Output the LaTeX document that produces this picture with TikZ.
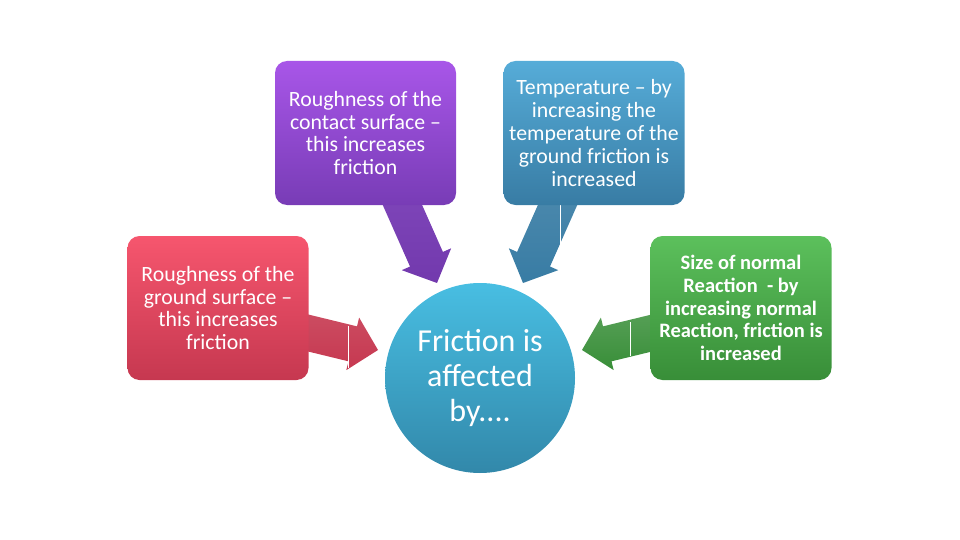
\documentclass[tikz,border=0pt]{standalone}
\usepackage{fontspec}
\setmainfont{Carlito}
\usetikzlibrary{calc}
\definecolor{purT}{RGB}{168,86,232}
\definecolor{purB}{RGB}{120,60,182}
\definecolor{bluT}{RGB}{86,172,216}
\definecolor{bluB}{RGB}{56,124,164}
\definecolor{redT}{RGB}{246,86,110}
\definecolor{redB}{RGB}{198,56,80}
\definecolor{grnT}{RGB}{92,192,92}
\definecolor{grnB}{RGB}{56,142,56}
\definecolor{cirT}{RGB}{72,190,226}
\definecolor{cirB}{RGB}{50,136,170}
\newcommand{\blockarrow}[3]{%
  \shade[#3] ($(#1)!18pt!90:(#2)$)
    -- ($($(#2)!26pt!(#1)$)!18pt!-90:(#1)$)
    -- ($($(#2)!26pt!(#1)$)!27pt!-90:(#1)$)
    -- (#2)
    -- ($($(#2)!26pt!(#1)$)!27pt!90:(#1)$)
    -- ($($(#2)!26pt!(#1)$)!18pt!90:(#1)$)
    -- ($(#1)!18pt!-90:(#2)$) -- cycle;}
\begin{document}
\begin{tikzpicture}[x=1pt,y=-1pt,
  box/.style={rectangle, rounded corners=12pt, text=white, align=center,
    font=\fontsize{21.8}{22.8}\selectfont, inner sep=0pt,
    minimum width=181pt, minimum height=144pt},
  hub/.style={circle, text=white, align=center, minimum size=190pt,
    inner sep=0pt, font=\fontsize{32}{35}\selectfont,
    top color=cirT, bottom color=cirB},
  seam/.style={white, line width=0.8pt}]
\useasboundingbox (0,0) rectangle (960,540);
% arrow coordinates
\coordinate (pS) at (398,195);
\coordinate (pT) at (437,283);
\coordinate (bS) at (562,195);
\coordinate (bT) at (523,283);
\coordinate (rS) at (300,331);
\coordinate (rT) at (378,350);
\coordinate (gS) at (660,331);
\coordinate (gT) at (582,350);
\blockarrow{pS}{pT}{top color=purB!95!white, bottom color=purB!95!black}
\blockarrow{bS}{bT}{top color=bluB!90!white, bottom color=bluB}
\blockarrow{rS}{rT}{top color=redB!90!white, bottom color=redB}
\blockarrow{gS}{gT}{top color=grnB!85!white, bottom color=grnB}
\coordinate (s1a) at (560,205); \coordinate (s1b) at (560,245);
\coordinate (s2a) at (348,326); \coordinate (s2b) at (348,368);
\coordinate (s3a) at (630,322); \coordinate (s3b) at (630,356);
\draw[seam] (s1a) -- (s1b);
\draw[seam] (s2a) -- (s2b);
\draw[seam] (s3a) -- (s3b);
% boxes
\node[box, top color=purT, bottom color=purB] (rough) at (365.5,133)
  {Roughness of the\\contact surface --\\this increases\\friction};
\node[box, top color=bluT, bottom color=bluB] (temp) at (594,133)
  {Temperature -- by\\increasing the\\temperature of the\\ground friction is\\increased};
\node[box, top color=redT, bottom color=redB] (ground) at (218,308)
  {Roughness of the\\ground surface --\\this increases\\friction};
\node[box, top color=grnT, bottom color=grnB, font=\fontsize{20.5}{22.8}\selectfont\bfseries] (normal) at (741,308)
  {Size of normal\\Reaction\ \ - by\\increasing normal\\Reaction, friction is\\increased};
\node[hub] (fric) at (480,378) {Friction is\\affected\\by....};
\end{tikzpicture}
\end{document}
